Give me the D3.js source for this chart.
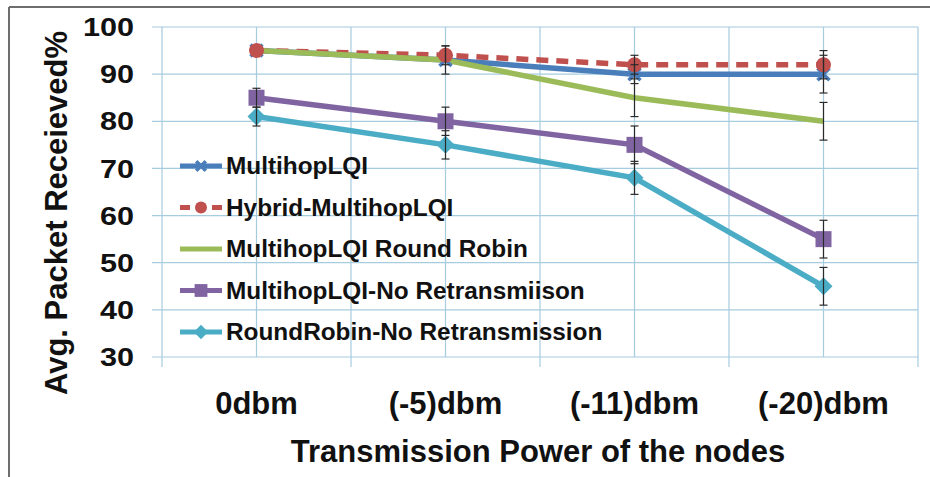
<!DOCTYPE html>
<html><head><meta charset="utf-8">
<script src="https://cdn.jsdelivr.net/npm/d3@7"></script>
<style>
html,body{margin:0;padding:0;background:#fff;}
svg{display:block;font-family:Arial,"Liberation Sans",Helvetica,sans-serif;}
</style></head>
<body>
<svg id="chart" width="930" height="477"></svg>
<script>
const categories = ["0dbm", "(-5)dbm", "(-11)dbm", "(-20)dbm"];
const yTicks = [30, 40, 50, 60, 70, 80, 90, 100];
const seriesNames = ["MultihopLQI", "Hybrid-MultihopLQI", "MultihopLQI Round Robin", "MultihopLQI-No Retransmiison", "RoundRobin-No Retransmission"];
const multihopLQI = [95, 93, 90, 90];
const hybridMultihopLQI = [95, 94, 92, 92];
const multihopRoundRobin = [95, 93, 85, 80];
const multihopNoRetx = [85, 80, 75, 55];
const roundRobinNoRetx = [81, 75, 68, 45];
const errMultihopLQI = [0.5, 3, 2, 4];
const errHybrid = [0.5, 2, 2, 3];
const errRoundRobin = [0.5, 0.5, 4, 4];
const errMultihopNoRetx = [2, 3, 4, 4];
const errRoundRobinNoRetx = [2, 3, 3.5, 4];
const colors = ["#4a7ebb", "#c0504d", "#9bbb59", "#8064a2", "#4bacc6"];
const markers = ["x", "circle", "none", "square", "diamond"];

const series = [
  {name: seriesNames[0], values: multihopLQI, err: errMultihopLQI, color: colors[0], marker: markers[0], dash: null},
  {name: seriesNames[1], values: hybridMultihopLQI, err: errHybrid, color: colors[1], marker: markers[1], dash: "12,8"},
  {name: seriesNames[2], values: multihopRoundRobin, err: errRoundRobin, color: colors[2], marker: markers[2], dash: null},
  {name: seriesNames[3], values: multihopNoRetx, err: errMultihopNoRetx, color: colors[3], marker: markers[3], dash: null},
  {name: seriesNames[4], values: roundRobinNoRetx, err: errRoundRobinNoRetx, color: colors[4], marker: markers[4], dash: null}
];

const svg = d3.select("#chart");
const L = 162, R = 918, T = 27, B = 357;
const x = d3.scaleBand().domain(categories).range([L, R]).padding(0);
const y = d3.scaleLinear().domain([30, 100]).range([B, T]);
const cx = c => x(c) + x.bandwidth() / 2;
const gridColor = "#a6cce0";

// outer frame (top and left)
svg.append("line").attr("x1", 9).attr("x2", 930).attr("y1", 7).attr("y2", 7).attr("stroke", "#6e6e6e").attr("stroke-width", 2);
svg.append("line").attr("x1", 9).attr("x2", 9).attr("y1", 7).attr("y2", 477).attr("stroke", "#6e6e6e").attr("stroke-width", 2);

// horizontal gridlines
svg.append("g").selectAll("line").data(yTicks).join("line")
  .attr("x1", L - 10).attr("x2", R).attr("y1", d => y(d)).attr("y2", d => y(d))
  .attr("stroke", gridColor).attr("stroke-width", 1.2);
// vertical gridlines: band boundaries (with ticks) and centers
const bounds = categories.map(c => x(c)).concat([R]);
svg.append("g").selectAll("line").data(bounds).join("line")
  .attr("x1", d => d).attr("x2", d => d).attr("y1", T).attr("y2", B + 10)
  .attr("stroke", gridColor).attr("stroke-width", 1.2);
svg.append("g").selectAll("line").data(categories).join("line")
  .attr("x1", d => cx(d)).attr("x2", d => cx(d)).attr("y1", T).attr("y2", B)
  .attr("stroke", gridColor).attr("stroke-width", 1.2);

// y tick labels (slightly wide lettering as in the original)
svg.append("g").selectAll("text").data(yTicks).join("text")
  .attr("transform", d => `translate(134,${y(d)}) scale(1.2,1)`).attr("dy", "0.36em")
  .attr("text-anchor", "end").attr("font-size", 25.5).attr("font-weight", "bold").attr("fill", "#111")
  .text(d => d);
// x tick labels
svg.append("g").selectAll("text").data(categories).join("text")
  .attr("x", d => cx(d)).attr("y", 414)
  .attr("text-anchor", "middle").attr("font-size", 31).attr("font-weight", "bold").attr("fill", "#111")
  .text(d => d);
// axis titles
svg.append("text").attr("x", 538).attr("y", 462).attr("text-anchor", "middle")
  .attr("font-size", 31).attr("font-weight", "bold").attr("fill", "#111")
  .text("Transmission Power of the nodes");
svg.append("text").attr("transform", "translate(67,213) rotate(-90)").attr("text-anchor", "middle")
  .attr("font-size", 31).attr("font-weight", "bold").attr("fill", "#111")
  .text("Avg. Packet Receieved%");

const line = d3.line().x((d, i) => cx(categories[i])).y(d => y(d));

function drawMarker(g, type, px, py, color, s) {
  if (type === "circle") {
    g.append("circle").attr("cx", px).attr("cy", py).attr("r", 7.5 * s).attr("fill", color);
  } else if (type === "square") {
    g.append("rect").attr("x", px - 8 * s).attr("y", py - 8 * s).attr("width", 16 * s).attr("height", 16 * s).attr("fill", color);
  } else if (type === "diamond") {
    g.append("path").attr("d", `M${px},${py - 9 * s}L${px + 9 * s},${py}L${px},${py + 9 * s}L${px - 9 * s},${py}Z`).attr("fill", color);
  } else if (type === "x") {
    const r = 6 * s;
    g.append("path").attr("d", `M${px - r},${py - r}L${px + r},${py + r}M${px - r},${py + r}L${px + r},${py - r}`)
      .attr("stroke", color).attr("stroke-width", 3.5);
  }
}

// series lines
series.forEach(s => {
  svg.append("path").datum(s.values).attr("d", line)
    .attr("fill", "none").attr("stroke", s.color).attr("stroke-width", 5.5)
    .attr("stroke-dasharray", s.dash);
});
// markers
series.forEach(s => {
  const g = svg.append("g");
  s.values.forEach((v, i) => drawMarker(g, s.marker, cx(categories[i]), y(v), s.color, 1));
});
// error bars
series.forEach(s => {
  const g = svg.append("g").attr("stroke", "#2a2a2a").attr("stroke-width", 1.2);
  s.values.forEach((v, i) => {
    const e = s.err[i];
    if (e < 1) return;
    const px = cx(categories[i]);
    g.append("line").attr("x1", px).attr("x2", px).attr("y1", y(v + e)).attr("y2", y(v - e));
    [v + e, v - e].forEach(t => g.append("line").attr("x1", px - 4).attr("x2", px + 4).attr("y1", y(t)).attr("y2", y(t)));
  });
});

// legend
const leg = svg.append("g");
series.forEach((s, i) => {
  const ly = 166 + i * 41.5;
  leg.append("line").attr("x1", 180).attr("x2", 222).attr("y1", ly).attr("y2", ly)
    .attr("stroke", s.color).attr("stroke-width", 5).attr("stroke-dasharray", s.dash ? "10,6" : null);
  drawMarker(leg, s.marker, 201, ly, s.color, 0.8);
  leg.append("text").attr("transform", `translate(226,${ly}) scale(1.06,1)`).attr("dy", "0.36em")
    .attr("font-size", 23).attr("font-weight", "bold").attr("fill", "#111").text(s.name);
});
</script>
</body></html>
